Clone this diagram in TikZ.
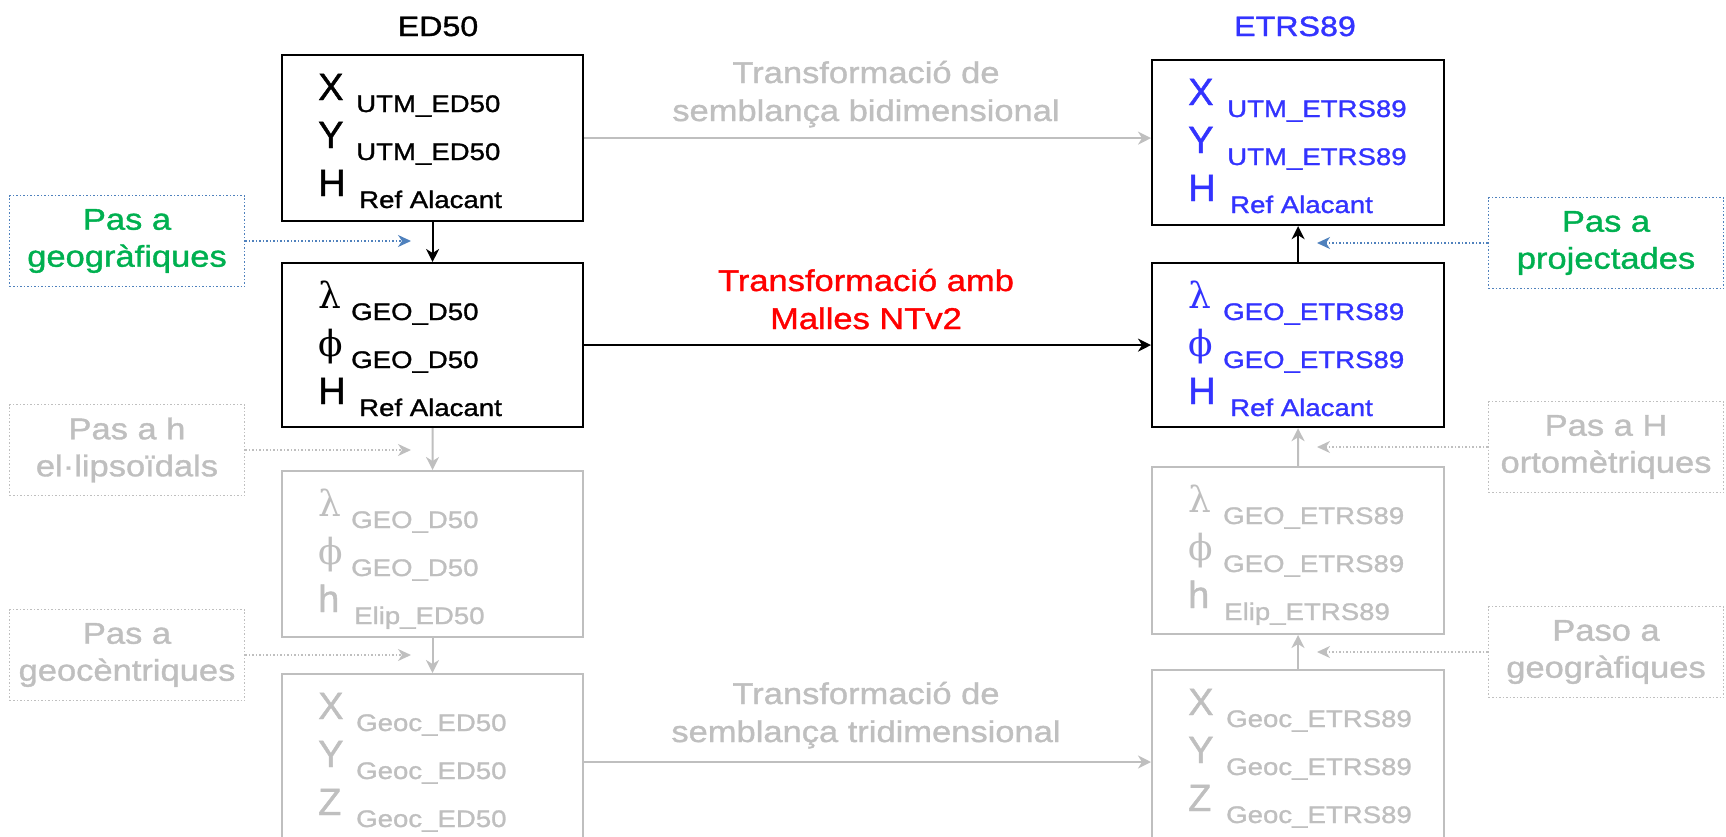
\documentclass[tikz,border=0pt]{standalone}
\usepackage{fontspec}
\setmainfont{Liberation Sans}[FakeStretch=1.15, FakeBold=1.2]
\newfontfamily\bigf{Liberation Sans}[FakeBold=1.2]
\newfontfamily\grk{DejaVu Serif}
\usetikzlibrary{arrows.meta}
\definecolor{cgrey}{RGB}{191,191,191}
\definecolor{cblue}{RGB}{51,51,255}
\definecolor{cgreen}{RGB}{0,176,80}
\definecolor{cdot}{RGB}{79,129,189}
\definecolor{cred}{RGB}{255,0,0}
\tikzset{
  blk/.style={draw=black, line width=2.2pt, minimum width=301pt, inner sep=0pt, anchor=north west},
  gry/.style={draw=cgrey, line width=2pt, minimum width=301pt, inner sep=0pt, anchor=north west},
  rw/.style={minimum width=292pt},
  pasbox/.style={line width=1.5pt, dotted, minimum width=235pt, minimum height=91pt, inner sep=0pt, align=center, font=\fontsize{30}{37}\selectfont},
  mainl/.style={anchor=base west, inner sep=0pt, font=\bigf\fontsize{38}{38}\selectfont},
  grkl/.style={anchor=base west, inner sep=0pt, font=\grk\fontsize{36}{36}\selectfont},
  subl/.style={anchor=base west, inner sep=0pt, font=\fontsize{24}{24}\selectfont},
  lbl/.style={anchor=base, inner sep=0pt, font=\fontsize{30}{30}\selectfont},
  ttl/.style={anchor=base, inner sep=0pt, font=\fontsize{28}{28}\selectfont},
  arr/.style={line width=2pt, -{Stealth[length=13pt,width=13pt,inset=4pt]}},
  dotarr/.style={line width=1.5pt, dotted, -{Stealth[length=13pt,width=12pt,inset=4pt]}},
}
% #1 name, #2 box left x, #3 baseline, #4 main style, #5 main text, #6 sub offset, #7 sub text
\newcommand{\crow}[7]{%
  \node[#4] (#1m) at ({#2+37},#3) {#5};
  \node[subl] (#1s) at ({#2+#6},{#3+12}) {#7};
}
\begin{document}
\begin{tikzpicture}[x=1pt,y=-1pt]
\useasboundingbox (0,0) rectangle (1726,836);

% titles
\node[ttl] (tED) at (438,36) {ED50};
\node[ttl, text=cblue] (tET) at (1295,36) {ETRS89};

% left column boxes
\node[blk, minimum height=166pt] (b1) at (281,54) {};
\node[blk, minimum height=164pt] (b2) at (281,262) {};
\node[gry, minimum height=166pt] (b3) at (281,470) {};
\node[gry, minimum height=176pt] (b4) at (281,673) {};
% right column boxes
\node[blk, rw, minimum height=165pt] (r1) at (1151,59) {};
\node[blk, rw, minimum height=164pt] (r2) at (1151,262) {};
\node[gry, rw, minimum height=167pt] (r3) at (1151,466) {};
\node[gry, rw, minimum height=176pt] (r4) at (1151,669) {};

% contents
\begin{scope}[every node/.append style={text=black}]
\crow{ba}{281}{100}{mainl}{X}{75}{UTM\_ED50}
\crow{bb}{281}{148}{mainl}{Y}{75}{UTM\_ED50}
\crow{bc}{281}{196}{mainl}{H}{78}{Ref Alacant}
\crow{bd}{281}{308}{grkl}{λ}{70}{GEO\_D50}
\crow{be}{281}{356}{grkl}{ϕ}{70}{GEO\_D50}
\crow{bf}{281}{404}{mainl}{H}{78}{Ref Alacant}
\end{scope}
\begin{scope}[every node/.append style={text=cgrey}]
\crow{bg}{281}{516}{grkl}{λ}{70}{GEO\_D50}
\crow{bh}{281}{564}{grkl}{ϕ}{70}{GEO\_D50}
\crow{bi}{281}{612}{mainl}{h}{73}{Elip\_ED50}
\crow{bj}{281}{719}{mainl}{X}{75}{Geoc\_ED50}
\crow{bk}{281}{767}{mainl}{Y}{75}{Geoc\_ED50}
\crow{bl}{281}{815}{mainl}{Z}{75}{Geoc\_ED50}
\crow{rg}{1151}{512}{grkl}{λ}{72}{GEO\_ETRS89}
\crow{rh}{1151}{560}{grkl}{ϕ}{72}{GEO\_ETRS89}
\crow{ri}{1151}{608}{mainl}{h}{73}{Elip\_ETRS89}
\crow{rj}{1151}{715}{mainl}{X}{75}{Geoc\_ETRS89}
\crow{rk}{1151}{763}{mainl}{Y}{75}{Geoc\_ETRS89}
\crow{rl}{1151}{811}{mainl}{Z}{75}{Geoc\_ETRS89}
\end{scope}
\begin{scope}[every node/.append style={text=cblue}]
\crow{ra}{1151}{105}{mainl}{X}{76}{UTM\_ETRS89}
\crow{rb}{1151}{153}{mainl}{Y}{76}{UTM\_ETRS89}
\crow{rc}{1151}{201}{mainl}{H}{79}{Ref Alacant}
\crow{rd}{1151}{308}{grkl}{λ}{72}{GEO\_ETRS89}
\crow{re}{1151}{356}{grkl}{ϕ}{72}{GEO\_ETRS89}
\crow{rf}{1151}{404}{mainl}{H}{79}{Ref Alacant}
\end{scope}

% vertical arrows
\draw[arr] (b1) -- (b2);
\draw[arr, cgrey] (b2) -- (b3);
\draw[arr, cgrey] (b3) -- (b4);
\draw[arr] (r2) -- (r1);
\draw[arr, cgrey] (r3) -- (r2);
\draw[arr, cgrey] (r4) -- (r3);

% horizontal arrows + labels
\draw[arr, cgrey] (b1.east) -- (b1.east -| r1.west);
\draw[arr] (b2.east) -- (b2.east -| r2.west);
\draw[arr, cgrey] (b4.east) -- (b4.east -| r4.west);
\node[lbl, text=cgrey] (l1a) at (866,83) {Transformació de};
\node[lbl, text=cgrey] (l1b) at (866,121) {semblança bidimensional};
\node[lbl, text=cred] (l2a) at (866,291) {Transformació amb};
\node[lbl, text=cred] (l2b) at (866,329) {Malles NTv2};
\node[lbl, text=cgrey] (l3a) at (866,704) {Transformació de};
\node[lbl, text=cgrey] (l3b) at (866,742) {semblança tridimensional};

% side boxes
\node[pasbox, draw=cdot, text=cgreen] (pg1) at (127,241) {Pas a\\geogràfiques};
\node[pasbox, draw=cgrey, text=cgrey] (ph1) at (127,450) {Pas a h\\el·lipsoïdals};
\node[pasbox, draw=cgrey, text=cgrey] (pc1) at (127,655) {Pas a\\geocèntriques};
\node[pasbox, draw=cdot, text=cgreen] (pp2) at (1606,243) {Pas a\\projectades};
\node[pasbox, draw=cgrey, text=cgrey] (pH2) at (1606,447) {Pas a H\\ortomètriques};
\node[pasbox, draw=cgrey, text=cgrey] (pg2) at (1606,652) {Paso a\\geogràfiques};

\coordinate (tg1) at (411,241);
\coordinate (th1) at (411,450);
\coordinate (tc1) at (411,655);
\coordinate (tp2) at (1317,243);
\coordinate (tH2) at (1317,447);
\coordinate (tg2) at (1317,652);
\draw[dotarr, cdot] (pg1.east) -- (tg1);
\draw[dotarr, cgrey] (ph1.east) -- (th1);
\draw[dotarr, cgrey] (pc1.east) -- (tc1);
\draw[dotarr, cdot] (pp2.west) -- (tp2);
\draw[dotarr, cgrey] (pH2.west) -- (tH2);
\draw[dotarr, cgrey] (pg2.west) -- (tg2);
\end{tikzpicture}
\end{document}
